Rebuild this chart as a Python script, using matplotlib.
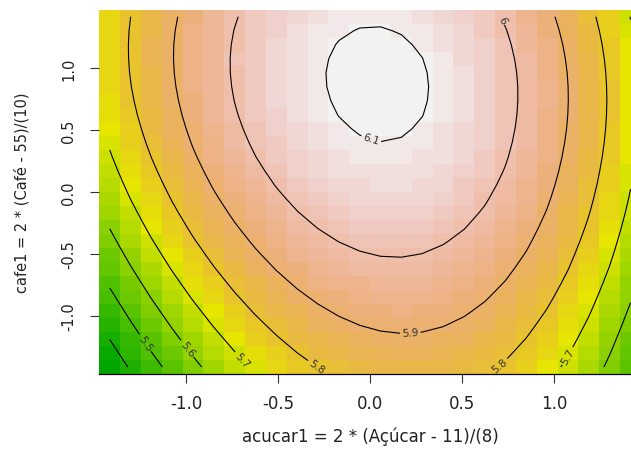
import colorsys
import numpy as np
import matplotlib
matplotlib.use("Agg")
import matplotlib.pyplot as plt
from matplotlib.colors import ListedColormap, BoundaryNorm

# Fitted response surface for the rating, in coded units.
# Terms: 1, a, c, a^2, c^2, a*c, a^3, c^3, a^2*c, a*c^2  (a = acucar1, c = cafe1)
coef_values = [6.06461, 0.03875, 0.10607, -0.19469, -0.04822,
               -0.02916, -0.01124, -0.00840, 0.00654, 0.00340]

# Region of the design (axial distance sqrt(2)) and grid resolution
axial = 1.414
n_grid = 26

contour_levels = [5.4, 5.5, 5.6, 5.7, 5.8, 5.9, 6.0, 6.1]
label_text = {5.5: "5.5", 5.6: "5.6", 5.7: "5.7", 5.8: "5.8",
              5.9: "5.9", 6.0: "6", 6.1: "6.1"}
# where each contour carries its label
label_spots = {
    5.5: [(-1.242, -1.24)],
    5.6: [(-1.007, -1.28)],
    5.7: [(-0.69, -1.347), (1.103, -1.355)],
    5.8: [(-0.273, -1.373), (0.687, -1.373)],
    5.9: [(0.217, -1.118)],
    6.0: [(0.696, 1.373)],
    6.1: [(0.0, 0.40)],
}

x_ticks = [-1.0, -0.5, 0.0, 0.5, 1.0]
y_ticks = [-1.0, -0.5, 0.0, 0.5, 1.0]
x_label = "acucar1 = 2 * (Açúcar - 11)/(8)"
y_label = "cafe1 = 2 * (Café - 55)/(10)"


def basis(a, c):
    return [np.ones_like(a), a, c, a * a, c * c, a * c, a ** 3, c ** 3, a * a * c, a * c * c]


def terrain_colors(n):
    """Same ramp as R's terrain.colors(n)."""
    k = n // 2
    out = []
    for h, s, v in zip(np.linspace(4 / 12, 2 / 12, k), np.ones(k), np.linspace(0.65, 0.9, k)):
        out.append(colorsys.hsv_to_rgb(h, s, v))
    m = n - k + 1
    for h, s, v in zip(np.linspace(2 / 12, 0, m)[1:], np.linspace(1, 0, m)[1:],
                       np.linspace(0.9, 0.95, m)[1:]):
        out.append(colorsys.hsv_to_rgb(h, s, v))
    return out


g = np.linspace(-axial, axial, n_grid)
xx, yy = np.meshgrid(g, g)
zz = sum(b * t for b, t in zip(coef_values, basis(xx, yy)))

n_col = 50
cmap = ListedColormap(terrain_colors(n_col))
breaks = np.linspace(zz.min(), zz.max(), n_col + 1)
norm = BoundaryNorm(breaks, n_col)

plt.rcParams["font.family"] = ["DejaVu Sans"]

W, H = 631, 452
fig = plt.figure(figsize=(W / 100, H / 100), dpi=100)
left, right, top, bottom = 99.3, 641.0, 10.7, 375.0
ax = fig.add_axes([left / W, 1 - bottom / H, (right - left) / W, (bottom - top) / H])

h = g[1] - g[0]
edges = np.concatenate([g - h / 2, [g[-1] + h / 2]])
ax.pcolormesh(edges, edges, zz, cmap=cmap, norm=norm, shading="flat")

for lv in contour_levels:
    cs = ax.contour(xx, yy, zz, levels=[lv], colors="black", linewidths=0.8)
    if lv in label_spots:
        cs.clabel(manual=label_spots[lv], inline=True, inline_spacing=2,
                  fontsize=7.5, fmt={lv: label_text[lv]}, colors="#333333")

ax.set_xlim(edges[0], edges[-1])
ax.set_ylim(edges[0], edges[-1])
ax.set_xticks(x_ticks)
ax.set_yticks(y_ticks)
ax.set_xticklabels([f"{t:.1f}" for t in x_ticks])
ax.set_yticklabels([f"{t:.1f}" for t in y_ticks], rotation=90, va="center")
ax.tick_params(axis="both", length=6.5, width=0.8, color="#333333", labelcolor="#222222")
ax.tick_params(axis="x", pad=8, labelsize=12)
ax.tick_params(axis="y", pad=10, labelsize=10.5)
for side in ("top", "right", "left"):
    ax.spines[side].set_visible(False)
ax.spines["bottom"].set_linewidth(0.9)

ax.set_xlabel(x_label, fontsize=12, color="#222222")
ax.set_ylabel(y_label, fontsize=10.5, color="#222222")
ax.xaxis.set_label_coords((370.3 - left) / (right - left), (bottom - 437) / (bottom - top))
ax.yaxis.set_label_coords((22 - left) / (right - left), 0.5)
ax.xaxis.label.set_va("center")
ax.yaxis.label.set_va("center")

fig.savefig("out.png", dpi=100)
